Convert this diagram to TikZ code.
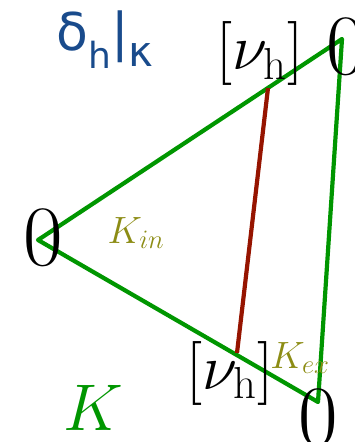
\documentclass[tikz,border=0pt]{standalone}
\usepackage{fix-cm}
\usepackage{fontspec}
\newfontfamily\dejavu{DejaVu Sans}
\definecolor{meshgreen}{RGB}{0,150,0}
\definecolor{cutred}{RGB}{150,20,0}
\definecolor{labelolive}{RGB}{140,140,20}
\definecolor{deltablue}{RGB}{25,75,140}
\begin{document}
\begin{tikzpicture}[x=1pt, y=-1pt,
  edge/.style={draw=meshgreen, line width=4.2pt, line join=round},
  cut/.style={draw=cutred, line width=4.2pt},
  zero/.style={inner sep=0pt, font=\fontsize{86}{86}\selectfont},
  vh/.style={inner sep=0pt, font=\fontsize{64}{64}\selectfont},
  sub/.style={inner sep=0pt, text=labelolive, font=\fontsize{38}{38}\selectfont},
]
\useasboundingbox (0,0) rectangle (355,442);
\coordinate (va) at (38,240);
\coordinate (vb) at (342,39);
\coordinate (vc) at (318,402);
\coordinate (ctop) at (268,88);
\coordinate (cbot) at (237,353);
\draw[edge] (va) -- (vb) -- (vc) -- cycle;
\draw[cut] (ctop) -- (cbot);
\node[zero] (za) at (43,238) {0};
\node[zero] (zb) at (346,47) {0};
\node[zero] (zc) at (318,418) {0};
\node[vh] (vtop) at (260,54) {$[\nu_{\mathrm{h}}]$};
\node[vh] (vbot) at (230,373) {$[\nu_{\mathrm{h}}]$};
\node[sub] (kin) at (136,233) {$K_{in}$};
\node[sub] (kex) at (300,358) {$K_{ex}$};
\node[inner sep=0pt, text=meshgreen, font=\fontsize{66}{66}\selectfont] (k) at (93,408) {$K$};
\node[inner sep=0pt, text=deltablue, font=\fontsize{52}{52}\selectfont\dejavu] (delta) at (105,40)
  {δ\raisebox{-0.35em}{\fontsize{36}{36}\selectfont h}|\raisebox{-0.3em}{\fontsize{42}{42}\selectfont κ}};
\end{tikzpicture}
\end{document}
